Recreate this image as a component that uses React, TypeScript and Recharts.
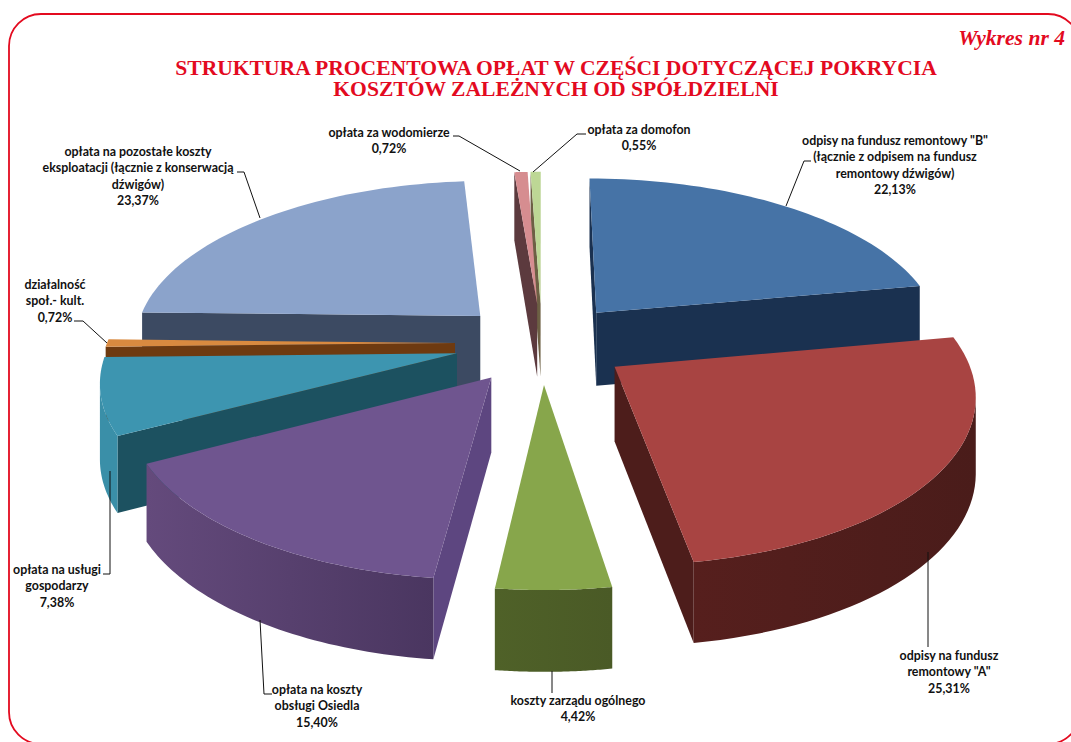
import { PieChart, Pie } from "recharts";

const CATEGORIES = [
  'odpisy na fundusz remontowy "B"',
  'odpisy na fundusz remontowy "A"',
  "koszty zarządu ogólnego",
  "opłata na koszty obsługi Osiedla",
  "opłata na usługi gospodarzy",
  "działalność społ.- kult.",
  "opłata na pozostałe koszty eksploatacji",
  "opłata za wodomierze",
  "opłata za domofon",
];
const VALUES = [22.13, 25.31, 4.42, 15.4, 7.38, 0.72, 23.37, 0.72, 0.55];
const VALUE_LABELS = ["22,13%", "25,31%", "4,42%", "15,40%", "7,38%", "0,72%", "23,37%", "0,72%", "0,55%"];
const LABEL_LINES = [
  ['odpisy na fundusz remontowy "B"', "(łącznie z odpisem na fundusz", "remontowy dźwigów)"],
  ["odpisy na fundusz", 'remontowy "A"'],
  ["koszty zarządu ogólnego"],
  ["opłata na koszty", "obsługi Osiedla"],
  ["opłata na usługi", "gospodarzy"],
  ["działalność", "społ.- kult."],
  ["opłata na pozostałe koszty", "eksploatacji (łącznie z konserwacją", "dźwigów)"],
  ["opłata za wodomierze"],
  ["opłata za domofon"],
];

const TOP_COLORS = ["#4673a6", "#a84442", "#87a64b", "#6f558f", "#3d95b0", "#d98a40", "#8ba3cb", "#d68d90", "#bdd795"];
const WALL_COLORS = ["#1a3150", "#4d1d1b", "#4f6128", "#5d4680", "#1c5160", "#6e3a10", "#3c4a62", "#5c3a3e", "#6d6044"];
const RIM_LEFT = ["#1a3150", "#561f1d", "#4f6128", "#644a7c", "#3a8fa8", "#6e3a10", "#3c4a62", "#5c3a3e", "#6d6044"];
const RIM_RIGHT = ["#1a3150", "#4a1c1a", "#4a5a26", "#4a3660", "#3a8fa8", "#6e3a10", "#3c4a62", "#5c3a3e", "#6d6044"];

// back slices first, the exploded ones overlap
const DRAW_ORDER = [0, 6, 8, 7, 5, 4, 3, 2, 1];

// label placement: centre x, y of the first line, leader line
const LABEL_LAYOUT = [
  { x: 895, y: 141, leader: "811,161 804,161 786,206" },
  { x: 949, y: 656, leader: "928,552 928,647" },
  { x: 578, y: 701, leader: "552,671 552,693" },
  { x: 317, y: 690, leader: "272,694 264,694 260,620" },
  { x: 57, y: 570, leader: "103,574 110,574 110,471" },
  { x: 55, y: 285, leader: "74,321 83,321 107,343" },
  { x: 138, y: 152, leader: "237,172 244,172 260,218" },
  { x: 389, y: 133, leader: "453,136 459,136 520,171" },
  { x: 639, y: 130, leader: "586,134 577,134 533,172" },
];

const tableData = CATEGORIES.map((name, i) => ({ name, value: VALUES[i] }));

const EXPLODE = 0.25;
const SQUASH = 0.465;
const TILT = 0.145;
const DEPTH = 74;
const RAD = Math.PI / 180;

function Slice3D(props: any) {
  const { cx, cy, outerRadius, startAngle, endAngle, index } = props;
  const mid = ((startAngle + endAngle) / 2) * RAD;
  const offU = Math.cos(mid) * EXPLODE;
  const offV = -Math.sin(mid) * EXPLODE;

  const project = (u: number, v: number) => {
    const pu = u + offU;
    const pv = v + offV;
    const s = 1 / (1 - TILT * pv);
    return {
      x: cx + outerRadius * pu * s,
      y: cy + outerRadius * SQUASH * pv * s,
      d: DEPTH * Math.sqrt(s),
    };
  };

  const apex = project(0, 0);
  const arc: { x: number; y: number; d: number }[] = [];
  const steps = 48;
  for (let i = 0; i <= steps; i++) {
    const a = (startAngle + ((endAngle - startAngle) * i) / steps) * RAD;
    arc.push(project(Math.cos(a), -Math.sin(a)));
  }
  const first = arc[0];
  const last = arc[arc.length - 1];

  const quad = (a: any, b: any) =>
    `M${a.x},${a.y}L${b.x},${b.y}L${b.x},${b.y + b.d}L${a.x},${a.y + a.d}Z`;

  // only faces running right to left on screen look at the viewer
  const rimTop: any[] = [];
  for (let i = 0; i < arc.length - 1; i++) {
    if (arc[i + 1].x < arc[i].x) {
      if (rimTop.length === 0) rimTop.push(arc[i]);
      rimTop.push(arc[i + 1]);
    }
  }
  const rimPath =
    rimTop.length > 1
      ? "M" +
        rimTop.map((p) => `${p.x},${p.y}`).join("L") +
        "L" +
        [...rimTop].reverse().map((p) => `${p.x},${p.y + p.d}`).join("L") +
        "Z"
      : null;

  const top = "M" + [apex, ...arc].map((p) => `${p.x},${p.y}`).join("L") + "Z";
  const gradId = `rim-${index}`;

  return (
    <g>
      <defs>
        <linearGradient id={gradId} x1="0" y1="0" x2="1" y2="0">
          <stop offset="0%" stopColor={RIM_LEFT[index]} />
          <stop offset="100%" stopColor={RIM_RIGHT[index]} />
        </linearGradient>
      </defs>
      {first.x < apex.x && <path d={quad(apex, first)} fill={WALL_COLORS[index]} />}
      {apex.x < last.x && <path d={quad(last, apex)} fill={WALL_COLORS[index]} />}
      {rimPath && <path d={rimPath} fill={`url(#${gradId})`} />}
      <path d={top} fill={TOP_COLORS[index]} />
    </g>
  );
}

function SliceLabel(props: any) {
  const { index } = props;
  const place = LABEL_LAYOUT[index];
  const lines = [...LABEL_LINES[index], VALUE_LABELS[index]];
  return (
    <g>
      <polyline points={place.leader} fill="none" stroke="#111" strokeWidth={1} />
      <text
        textAnchor="middle"
        fontFamily="Lato, sans-serif"
        fontWeight={700}
        fontSize={12.4}
        fill="#111"
      >
        {lines.map((line, i) => (
          <tspan key={i} x={place.x} y={place.y + 4 + i * 16.4}>
            {line}
          </tspan>
        ))}
      </text>
    </g>
  );
}

const pieProps = {
  data: tableData,
  dataKey: "value",
  nameKey: "name",
  cx: 537,
  cy: 338,
  outerRadius: 348,
  startAngle: 90,
  endAngle: -270,
  stroke: "none",
  isAnimationActive: false,
  labelLine: false,
};

export default function App() {
  return (
    <div style={{ position: "absolute", left: 0, top: 0, width: 1071, height: 742, overflow: "hidden", background: "#fff" }}>
      <svg width={1071} height={742} style={{ position: "absolute", left: 0, top: 0 }}>
        <rect x={9} y={14} width={1071} height={730} rx={32} ry={32} fill="none" stroke="#e30a1f" strokeWidth={1.8} />
        <text x={1065} y={45} textAnchor="end" fontFamily="'Liberation Serif', serif" fontWeight={700} fontStyle="italic" fontSize={21.6} fill="#e30a1f">
          Wykres nr 4
        </text>
        <text textAnchor="middle" fontFamily="'Liberation Serif', serif" fontWeight={700} fontSize={21.6} fill="#e30a1f">
          <tspan x={556} y={75}>STRUKTURA PROCENTOWA OPŁAT W CZĘŚCI DOTYCZĄCEJ POKRYCIA</tspan>
          <tspan x={556} y={96}>KOSZTÓW ZALEŻNYCH OD SPÓŁDZIELNI</tspan>
        </text>
      </svg>
      <div style={{ position: "absolute", left: 0, top: 0 }}>
        <PieChart width={1071} height={742}>
          {DRAW_ORDER.map((idx) => (
            <Pie
              key={idx}
              {...pieProps}
              shape={(p: any) => (p.index === idx ? <Slice3D {...p} /> : <g />)}
            />
          ))}
          <Pie {...pieProps} fill="none" shape={() => <g />} label={(p: any) => <SliceLabel {...p} />} />
        </PieChart>
      </div>
    </div>
  );
}
